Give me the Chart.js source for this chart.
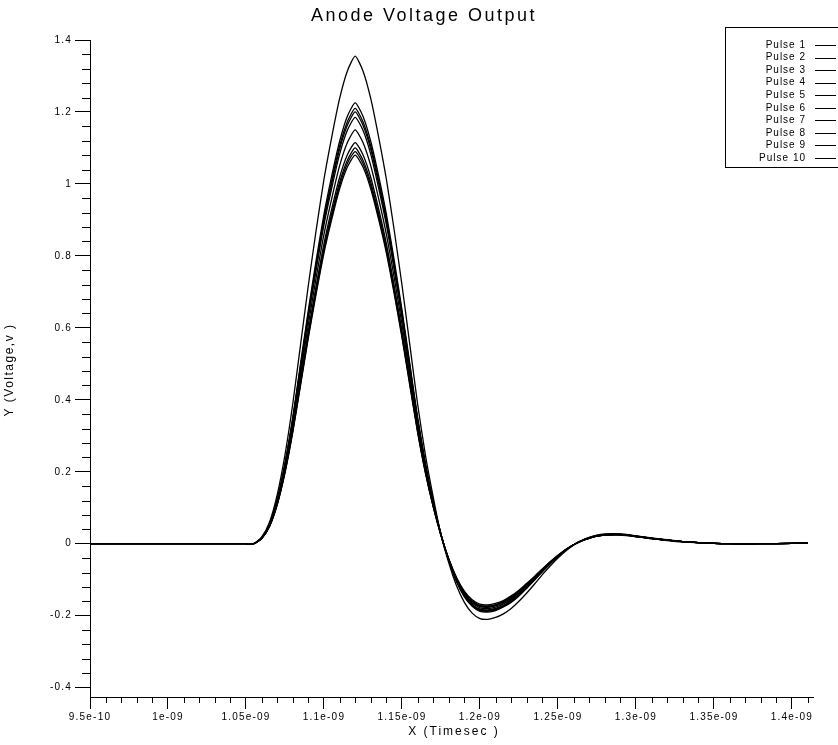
<!DOCTYPE html>
<html><head><meta charset="utf-8">
<script src="https://cdn.jsdelivr.net/npm/chart.js@4.4.1/dist/chart.umd.min.js"></script>
<style>html,body{margin:0;padding:0;background:#fff;}</style>
</head><body>
<canvas id="c" width="838" height="745"></canvas>
<script>
// ---- data (time in ns, voltage in V) ----
const chartTitle = "Anode Voltage Output";
const xTitle = "X (Timesec )";
const yTitle = "Y (Voltage,v )";
const seriesNames = ["Pulse 1","Pulse 2","Pulse 3","Pulse 4","Pulse 5","Pulse 6","Pulse 7","Pulse 8","Pulse 9","Pulse 10"];
const xTickValues = [0.95,1.00,1.05,1.10,1.15,1.20,1.25,1.30,1.35,1.40];
const xTickLabels = ["9.5e-10","1e-09","1.05e-09","1.1e-09","1.15e-09","1.2e-09","1.25e-09","1.3e-09","1.35e-09","1.4e-09"];
const yTickValues = [-0.4,-0.2,0,0.2,0.4,0.6,0.8,1.0,1.2,1.4];
const yTickLabels = ["-0.4","-0.2","0","0.2","0.4","0.6","0.8","1","1.2","1.4"];

const timeNs = [0.95,1.00,1.05,1.055,
 1.06,1.065,1.07,1.075,1.08,1.085,1.09,1.095,1.10,1.105,1.11,1.115,1.12,1.125,1.13,1.135,1.14,1.145,1.15,1.155,1.16,1.165,1.17,1.175,
 1.18,1.185,1.19,1.195,1.20,1.205,1.21,1.215,1.22,1.225,1.23,1.235,1.24,1.245,1.25,1.255,1.26,
 1.265,1.27,1.275,1.28,1.285,1.29,1.295,1.30,
 1.31,1.32,1.33,1.34,1.35,1.36,
 1.38,1.40,1.41];

const pulse1 = [0,0,0,0,
 0.018,0.059,0.136,0.247,0.389,0.554,0.719,0.872,1.013,1.131,1.237,1.314,1.355,1.314,1.237,1.131,1.013,0.872,0.719,0.554,0.389,0.247,0.130,0.024,
 -0.053,-0.117,-0.163,-0.193,-0.208,-0.210,-0.205,-0.195,-0.180,-0.160,-0.137,-0.112,-0.086,-0.062,-0.040,-0.020,-0.004,
 0.009,0.018,0.024,0.027,0.028,0.027,0.025,0.022,
 0.016,0.011,0.006,0.003,0.001,0,
 0,0.001,0.002];
const pulse2 = [0,0,0,0,
 0.016,0.053,0.122,0.224,0.352,0.501,0.650,0.788,0.916,1.023,1.118,1.188,1.225,1.188,1.118,1.023,0.916,0.788,0.650,0.501,0.352,0.224,0.117,0.027,
 -0.048,-0.106,-0.148,-0.174,-0.188,-0.190,-0.186,-0.176,-0.163,-0.145,-0.124,-0.101,-0.078,-0.056,-0.036,-0.018,-0.003,
 0.008,0.017,0.023,0.026,0.027,0.026,0.024,0.021,
 0.015,0.010,0.006,0.003,0.001,0,
 0,0.001,0.002];
const pulse3 = [0,0,0,0,
 0.016,0.053,0.121,0.221,0.347,0.495,0.642,0.779,0.905,1.010,1.105,1.173,1.210,1.173,1.105,1.010,0.905,0.779,0.642,0.495,0.347,0.221,0.116,0.026,
 -0.047,-0.104,-0.146,-0.172,-0.186,-0.188,-0.184,-0.174,-0.161,-0.143,-0.122,-0.100,-0.077,-0.055,-0.035,-0.018,-0.003,
 0.008,0.016,0.022,0.025,0.026,0.026,0.024,0.021,
 0.015,0.010,0.006,0.003,0.001,0,
 0,0.001,0.002];
const pulse4 = [0,0,0,0,
 0.016,0.052,0.120,0.219,0.344,0.490,0.637,0.772,0.897,1.002,1.096,1.163,1.200,1.163,1.096,1.002,0.897,0.772,0.637,0.490,0.344,0.219,0.115,0.026,
 -0.046,-0.103,-0.145,-0.170,-0.184,-0.186,-0.182,-0.173,-0.159,-0.142,-0.121,-0.099,-0.076,-0.055,-0.035,-0.018,-0.003,
 0.008,0.016,0.022,0.025,0.026,0.026,0.024,0.021,
 0.015,0.010,0.006,0.003,0.001,0,
 0,0.001,0.002];
const pulse5 = [0,0,0,0,
 0.015,0.052,0.118,0.216,0.340,0.484,0.629,0.762,0.886,0.989,1.082,1.149,1.185,1.149,1.082,0.989,0.886,0.762,0.629,0.484,0.340,0.216,0.113,0.026,
 -0.046,-0.102,-0.143,-0.169,-0.182,-0.184,-0.180,-0.171,-0.157,-0.140,-0.120,-0.098,-0.076,-0.054,-0.035,-0.017,-0.003,
 0.008,0.016,0.022,0.025,0.026,0.025,0.023,0.020,
 0.015,0.010,0.006,0.003,0.001,0,
 0,0.001,0.002];
const pulse6 = [0,0,0,0,
 0.015,0.050,0.115,0.210,0.330,0.470,0.610,0.740,0.860,0.960,1.050,1.115,1.150,1.115,1.050,0.960,0.860,0.740,0.610,0.470,0.330,0.210,0.110,0.025,
 -0.045,-0.100,-0.140,-0.165,-0.178,-0.180,-0.176,-0.167,-0.154,-0.137,-0.117,-0.096,-0.074,-0.053,-0.034,-0.017,-0.003,
 0.008,0.016,0.022,0.025,0.026,0.026,0.024,0.021,
 0.015,0.010,0.006,0.003,0.001,0,
 0,0.001,0.002];
const pulse7 = [0,0,0,0,
 0.015,0.048,0.112,0.204,0.320,0.456,0.591,0.717,0.834,0.931,1.018,1.081,1.115,1.081,1.018,0.931,0.834,0.717,0.591,0.456,0.320,0.204,0.107,0.024,
 -0.044,-0.098,-0.138,-0.162,-0.175,-0.177,-0.173,-0.164,-0.151,-0.135,-0.115,-0.094,-0.073,-0.052,-0.033,-0.017,-0.003,
 0.008,0.015,0.021,0.024,0.025,0.025,0.023,0.020,
 0.015,0.010,0.006,0.003,0.001,0,
 0,0.001,0.002];
const pulse8 = [0,0,0,0,
 0.014,0.048,0.110,0.201,0.316,0.450,0.583,0.708,0.823,0.918,1.004,1.066,1.100,1.066,1.004,0.918,0.823,0.708,0.583,0.450,0.316,0.201,0.105,0.024,
 -0.044,-0.097,-0.136,-0.160,-0.173,-0.175,-0.171,-0.162,-0.150,-0.133,-0.114,-0.093,-0.072,-0.052,-0.033,-0.017,-0.003,
 0.008,0.015,0.021,0.024,0.025,0.025,0.023,0.020,
 0.014,0.010,0.006,0.003,0.001,0,
 0,0.001,0.002];
const pulse9 = [0,0,0,0,
 0.014,0.047,0.109,0.199,0.313,0.445,0.578,0.701,0.815,0.910,0.995,1.057,1.090,1.057,0.995,0.910,0.815,0.701,0.578,0.445,0.313,0.199,0.104,0.024,
 -0.043,-0.096,-0.135,-0.159,-0.171,-0.173,-0.169,-0.160,-0.148,-0.132,-0.112,-0.092,-0.071,-0.051,-0.033,-0.016,-0.003,
 0.008,0.015,0.021,0.024,0.025,0.025,0.023,0.020,
 0.014,0.010,0.006,0.003,0.001,0,
 0,0.001,0.002];
const pulse10 = [0,0,0,0,
 0.014,0.047,0.108,0.197,0.310,0.441,0.573,0.695,0.808,0.902,0.986,1.047,1.080,1.047,0.986,0.902,0.808,0.695,0.573,0.441,0.310,0.197,0.103,0.023,
 -0.042,-0.094,-0.132,-0.156,-0.168,-0.170,-0.166,-0.158,-0.145,-0.129,-0.110,-0.091,-0.070,-0.050,-0.032,-0.016,-0.003,
 0.007,0.015,0.021,0.024,0.025,0.024,0.022,0.020,
 0.014,0.009,0.005,0.003,0.001,0,
 0,0.001,0.002];
const pulses = [pulse1,pulse2,pulse3,pulse4,pulse5,pulse6,pulse7,pulse8,pulse9,pulse10];

// ---- chart ----
Chart.defaults.font.family = '"Liberation Sans", Arial, sans-serif';
Chart.defaults.color = '#000';

const datasets = pulses.map((vals, i) => ({
  label: seriesNames[i],
  data: vals.map((v, j) => ({x: timeNs[j], y: v})),
  borderColor: '#000',
  backgroundColor: '#000',
  borderWidth: 1.3,
  pointRadius: 0,
  fill: false,
  tension: 0.2
}));

const decorPlugin = {
  id: 'decor',
  beforeDraw(chart) {
    const ctx = chart.ctx;
    ctx.save();
    ctx.fillStyle = '#fff';
    ctx.fillRect(0, 0, chart.width, chart.height);
    ctx.restore();
    ctx.letterSpacing = '1.2px';
  },
  afterDraw(chart) {
    const ctx = chart.ctx;
    const xs = chart.scales.x, ys = chart.scales.y;
    const area = chart.chartArea;
    ctx.save();
    ctx.strokeStyle = '#000';
    ctx.lineWidth = 1;
    // minor ticks x
    ctx.beginPath();
    for (let k = 95; k <= 141; k++) {
      if (k % 5 === 0) continue;
      const px = Math.round(xs.getPixelForValue(k / 100)) + 0.5;
      ctx.moveTo(px, area.bottom);
      ctx.lineTo(px, area.bottom + 6);
    }
    // minor ticks y
    for (let k = -10; k <= 35; k++) {
      if (k % 5 === 0) continue;
      const py = Math.round(ys.getPixelForValue(k * 0.04)) + 0.5;
      ctx.moveTo(area.left - 8, py);
      ctx.lineTo(area.left, py);
    }
    ctx.stroke();

    // title
    ctx.fillStyle = '#000';
    ctx.letterSpacing = '2.5px';
    ctx.font = '18px "Liberation Sans", Arial, sans-serif';
    ctx.textAlign = 'center';
    ctx.textBaseline = 'middle';
    ctx.fillText(chartTitle, 424, 16);

    // axis titles
    ctx.font = '12px "Liberation Sans", Arial, sans-serif';
    ctx.letterSpacing = '2px';
    ctx.fillText(xTitle, 454, 732);
    ctx.save();
    ctx.translate(10, 370);
    ctx.rotate(-Math.PI / 2);
    ctx.letterSpacing = '1.5px';
    ctx.fillText(yTitle, 0, 0);
    ctx.restore();

    // legend
    ctx.letterSpacing = '1px';
    ctx.font = '10px "Liberation Sans", Arial, sans-serif';
    ctx.strokeRect(725.5, 27.5, 140, 140);
    ctx.textAlign = 'right';
    chart.data.datasets.forEach((ds, i) => {
      const y = 45 + i * 12.55;
      ctx.fillText(ds.label, 806, y);
      const ly = Math.round(y) + 0.5;
      ctx.beginPath();
      ctx.moveTo(815, ly);
      ctx.lineTo(836, ly);
      ctx.stroke();
    });
    ctx.restore();
  }
};

new Chart(document.getElementById('c'), {
  type: 'line',
  data: { datasets },
  plugins: [decorPlugin],
  options: {
    responsive: false,
    animation: false,
    devicePixelRatio: 1,
    layout: { padding: { top: 40, right: 25, left: 0, bottom: 0 } },
    plugins: { legend: { display: false }, title: { display: false }, tooltip: { enabled: false } },
    scales: {
      x: {
        type: 'linear',
        min: 0.95,
        max: 1.4135,
        afterBuildTicks: (s) => { s.ticks = xTickValues.map(v => ({ value: v })); },
        afterFit: (s) => { s.height = 48; },
        ticks: {
          autoSkip: false, maxRotation: 0, minRotation: 0, padding: 2, color: '#000',
          font: { size: 10 },
          callback: (v) => { const i = xTickValues.findIndex(t => Math.abs(t - v) < 1e-6); return i >= 0 ? xTickLabels[i] : ''; }
        },
        grid: { drawOnChartArea: false, drawTicks: true, tickLength: 12, color: '#000', tickColor: '#000', lineWidth: 1 },
        border: { display: true, color: '#000', width: 1 }
      },
      y: {
        type: 'linear',
        min: -0.426,
        max: 1.4,
        afterBuildTicks: (s) => { s.ticks = yTickValues.map(v => ({ value: v })); },
        afterFit: (s) => { s.width = 90; },
        ticks: {
          autoSkip: false, padding: 3, color: '#000',
          font: { size: 10 },
          callback: (v) => { const i = yTickValues.findIndex(t => Math.abs(t - v) < 1e-6); return i >= 0 ? yTickLabels[i] : ''; }
        },
        grid: { drawOnChartArea: false, drawTicks: true, tickLength: 15, color: '#000', tickColor: '#000', lineWidth: 1 },
        border: { display: true, color: '#000', width: 1 }
      }
    }
  }
});
</script>
</body></html>
